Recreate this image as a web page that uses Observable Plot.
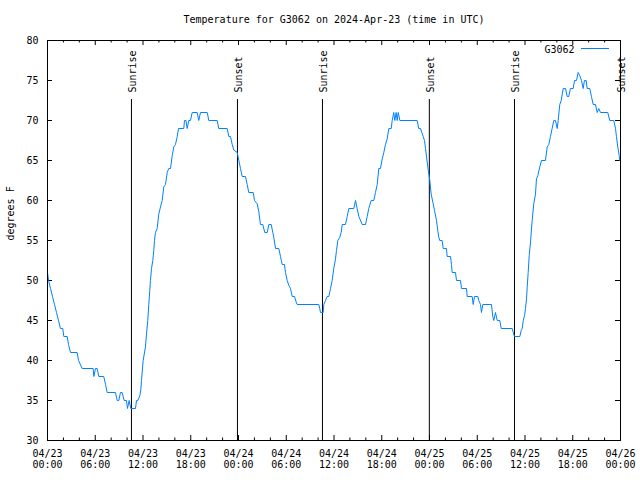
<!DOCTYPE html>
<html><head><meta charset="utf-8">
<script src="https://cdn.jsdelivr.net/npm/d3@7"></script>
<script src="https://cdn.jsdelivr.net/npm/@observablehq/plot@0.6"></script>
<style>body{margin:0;background:#fff}</style>
</head><body><div id="chart"></div>
<script>
const title = "Temperature for G3062 on 2024-Apr-23 (time in UTC)";
const seriesName = "G3062";
const yLabel = "degrees F";
// hours since 2024-04-23 00:00 UTC
const hours = [0,0.13,0.38,0.63,0.88,1.13,1.38,1.63,1.92,2.05,2.48,2.64,2.89,3.73,3.90,4.36,5.74,5.82,6.03,6.24,6.45,7.07,7.29,7.50,8.54,8.76,8.96,9.17,9.38,9.63,9.92,10.05,10.26,10.47,11.06,11.18,11.35,11.60,11.72,11.81,12.02,12.31,12.44,12.60,12.73,12.85,12.94,13.07,13.23,13.36,13.44,13.57,13.78,13.98,14.20,14.41,14.61,14.83,15.04,15.24,15.46,15.67,15.87,16.08,16.30,16.46,17.13,17.21,17.40,17.55,17.75,17.97,18.18,18.81,19.01,19.22,20.07,20.27,21.32,21.52,22.58,22.78,22.99,23.21,23.41,23.84,24.04,24.25,24.46,24.88,25.09,25.29,25.85,26.01,26.35,26.55,26.76,27.05,27.30,27.61,27.81,28.11,28.31,28.43,28.65,29.06,29.28,29.49,29.78,29.90,30.12,30.32,30.53,30.75,31.04,31.25,31.38,34.09,34.21,34.30,34.64,34.72,34.93,35.14,35.35,35.56,35.77,35.97,36.19,36.31,36.48,36.73,36.90,37.03,37.44,37.66,37.86,38.49,38.70,38.91,39.12,39.54,39.96,40.17,40.37,40.67,41.00,41.21,41.43,41.63,41.84,42.06,42.26,42.47,42.68,42.89,43.19,43.31,43.51,43.64,43.81,43.94,44.07,44.27,46.45,46.65,46.87,47.21,47.37,47.50,47.71,47.91,48.04,48.21,48.46,48.63,48.88,49.04,49.17,49.29,49.59,49.72,50.13,50.22,50.64,50.76,50.85,51.27,51.39,51.90,52.02,52.65,52.74,53.36,53.49,53.65,54.07,54.19,54.41,54.53,54.70,55.79,55.95,56.08,56.29,56.51,56.83,57.01,58.39,58.52,58.68,59.35,59.52,59.65,59.78,59.94,60.06,60.19,60.28,60.40,60.53,60.69,60.90,61.10,61.32,61.44,61.61,61.86,62.07,62.57,62.79,62.99,63.20,63.41,63.62,63.83,64.05,64.17,64.37,64.55,64.80,65.09,65.30,65.50,65.71,66.05,66.22,66.47,66.68,66.88,67.10,67.31,67.47,67.69,67.81,68.14,68.35,68.57,68.86,69.07,69.27,69.49,70.40,70.65,71.16,71.37,71.49,71.66,71.84,71.91];
const temps = [51,50,49,48,47,46,45,44,44,43,43,42,41,41,40,39,39,38,39,39,38,38,37,36,36,35,35,36,36,35,35,34,35,34,34,35,35,35.6,36.3,37.5,40,41.7,43.3,45,47,48.75,50,51.5,52.5,53.75,55,56,56.5,58.3,59.2,60,61.7,62,63.5,64,64,65.6,66.7,67,68,69,69,70,70,69,70,70,71,71,70,71,71,70,70,69,69,68,68,67,66.3,66,65,64,63,63,62,61,61,60,59.6,58.6,57,57,56,56,57,57,56,55.4,54,54,53,52,52,51,50,49.4,49,48,48,47.3,47,47,46.5,46,46,47,47.5,48,48,49,50,51.5,52.7,53.75,55,55.4,56,57,57,58,59,59,60,59,58,57,57,58,59,60,60,61,62,64,64,65.2,66,67,67.7,69,69,70,71,70,71,70,71,70,70,69,69,68,67.5,66.5,64.8,63.3,62.5,60.8,59.6,58.75,57.5,56.25,55.4,55,55,54,54,53,53,52,51,51,50,50,49,49,48,48,47,48,48,47.5,47,46,47,47,45.5,45,46,45,45,44,44,43.5,43,43,43.75,44,45,45.6,46.5,47.7,49.2,51,53.1,54.8,57.5,59.6,60.8,62.7,63.1,64.2,65,65,66.7,67,68,69,70,70,69,70,72,72.5,74,74,73,73,74,74,75,75,76,75.6,75,74,75,75,74,74,73,72,72,71,71.5,71,71,70,70,69,68,66.7,65.6,65];
const eventNames = ["Sunrise","Sunset","Sunrise","Sunset","Sunrise","Sunset"];
const eventHours = [10.55, 23.87, 34.55, 47.98, 58.68, 72];
const xMajorHours = [0,6,12,18,24,30,36,42,48,54,60,66,72];
const xMinorHours = [2,4,8,10,14,16,20,22,26,28,32,34,38,40,44,46,50,52,56,58,62,64,68,70];
const yTicks = [30,35,40,45,50,55,60,65,70,75,80];

const start = Date.UTC(2024, 3, 23);
const toDate = h => new Date(start + h * 3600e3);
const data = hours.map((h, i) => ({date: toDate(h), temp: temps[i]}));
const events = eventHours.map((h, i) => ({date: toDate(h), name: eventNames[i]}));
const majors = xMajorHours.map(toDate);
const minors = xMinorHours.map(toDate);
const lineColor = "#0080ff";

const chart = Plot.plot({
  width: 640, height: 480,
  marginLeft: 47, marginRight: 20, marginTop: 40, marginBottom: 40,
  style: {fontFamily: "'DejaVu Sans Mono', monospace", fontSize: "10px", background: "white", color: "black"},
  x: {type: "utc", domain: [toDate(0), toDate(72)]},
  y: {domain: [30, 80]},
  marks: [
    Plot.axisX(majors, {tickSize: 0, tickPadding: 9, tickFormat: d3.utcFormat("%m/%d\n%H:%M"), lineHeight: 1.1, label: null}),
    Plot.axisY(yTicks, {tickSize: 0, tickPadding: 9, label: null}),
    Plot.ruleX(majors, {insetTop: 395, stroke: "black"}),
    Plot.ruleX(majors, {insetBottom: 395, stroke: "black"}),
    Plot.ruleX(minors, {insetTop: 397.5, stroke: "black"}),
    Plot.ruleX(minors, {insetBottom: 397.5, stroke: "black"}),
    Plot.ruleY(yTicks, {insetRight: 568, stroke: "black"}),
    Plot.ruleY(yTicks, {insetLeft: 568, stroke: "black"}),
    Plot.ruleX(events, {x: "date", insetTop: 59, stroke: "black"}),
    Plot.text(events, {x: "date", text: "name", frameAnchor: "top", lineAnchor: "middle", rotate: -90, textAnchor: "start", dy: 52, dx: 1}),
    Plot.line(data, {x: "date", y: "temp", stroke: lineColor, strokeWidth: 1}),
    Plot.frame({stroke: "black"}),
    Plot.text([title], {frameAnchor: "top", lineAnchor: "middle", dy: -21}),
    Plot.text([yLabel], {frameAnchor: "left", lineAnchor: "middle", rotate: -90, dx: -37}),
    Plot.text([seriesName], {frameAnchor: "top-right", lineAnchor: "middle", textAnchor: "end", dx: -46, dy: 9}),
    Plot.ruleY([80], {stroke: lineColor, insetLeft: 534, insetRight: 11, dy: 8})
  ]
});
document.getElementById("chart").appendChild(chart);
</script>
</body></html>
